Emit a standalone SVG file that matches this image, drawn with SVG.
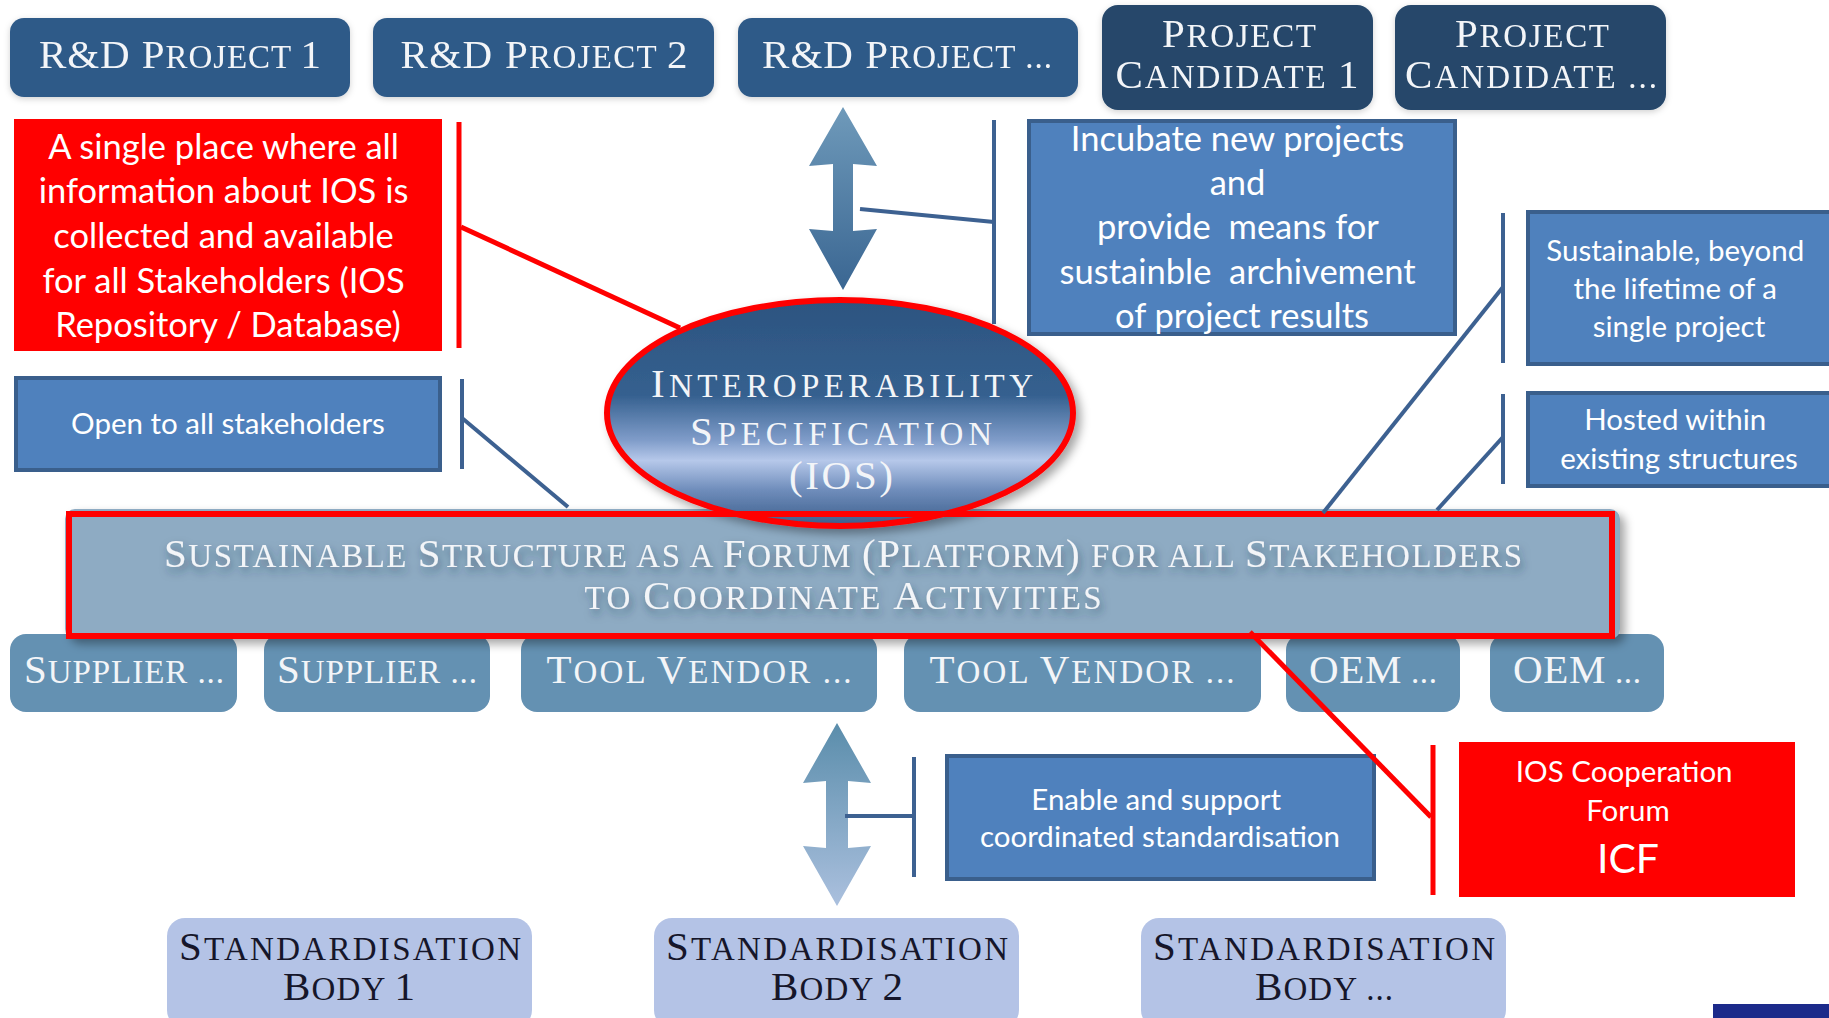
<svg xmlns="http://www.w3.org/2000/svg" width="1829" height="1018" viewBox="0 0 1829 1018">
<defs>
  <linearGradient id="gEll" x1="0" y1="0" x2="0" y2="1">
    <stop offset="0" stop-color="#2c5480"/>
    <stop offset="0.42" stop-color="#35608f"/>
    <stop offset="0.62" stop-color="#7f9cc9"/>
    <stop offset="0.71" stop-color="#b6c8ea"/>
    <stop offset="0.84" stop-color="#6f8dbb"/>
    <stop offset="1" stop-color="#3b5d8b"/>
  </linearGradient>
  <linearGradient id="gArrUp" x1="0" y1="0" x2="0" y2="1">
    <stop offset="0" stop-color="#6f9aba"/>
    <stop offset="1" stop-color="#3a6692"/>
  </linearGradient>
  <linearGradient id="gArrDn" x1="0" y1="0" x2="0" y2="1">
    <stop offset="0" stop-color="#5a8dab"/>
    <stop offset="1" stop-color="#abc0de"/>
  </linearGradient>
  <filter id="shadow" x="-10%" y="-20%" width="125%" height="150%">
    <feDropShadow dx="5" dy="5" stdDeviation="5" flood-color="#000" flood-opacity="0.35"/>
  </filter>
  <filter id="soft" x="-10%" y="-20%" width="120%" height="150%">
    <feDropShadow dx="0" dy="2" stdDeviation="3" flood-color="#000" flood-opacity="0.18"/>
  </filter>
  <filter id="tshadow" x="-5%" y="-50%" width="110%" height="200%">
    <feDropShadow dx="2" dy="5" stdDeviation="4" flood-color="#243447" flood-opacity="0.55"/>
  </filter>
  <style>
    .sc{font-family:"Liberation Serif","DejaVu Serif",serif;font-size:33px;text-anchor:middle}
    .B{font-size:41px}
    .lt{fill:#f3f5f8}
    .dk{fill:#16162a}
    .cal{font-family:Lato,"Open Sans",sans-serif;fill:#ffffff;text-anchor:middle}
    .c1{font-size:34.5px}
    .c2{font-size:29.5px}
    .rd{fill:#2f5a88}
    .pc{fill:#25476a}
    .sup{fill:#6491b2}
    .std{fill:#b4c3e6}
    .bbox{fill:#4f81bd;stroke:#3a5f8c;stroke-width:4}
    .rbox{fill:#ff0000}
    .bl{stroke:#3d6191;stroke-width:4;fill:none}
    .rl{stroke:#ff0000;stroke-width:5;fill:none}
  </style>
</defs>
<rect width="1829" height="1018" fill="#ffffff"/>

<!-- top row -->
<g id="rd-project-1" filter="url(#soft)">
  <rect class="rd" x="10" y="18" width="340" height="79" rx="14"/>
  <text class="sc lt" x="180" y="68" textLength="282" lengthAdjust="spacing"><tspan class="B">R&amp;D P</tspan>ROJECT <tspan class="B">1</tspan></text>
</g>
<g id="rd-project-2" filter="url(#soft)">
  <rect class="rd" x="373" y="18" width="341" height="79" rx="14"/>
  <text class="sc lt" x="544" y="68" textLength="287" lengthAdjust="spacing"><tspan class="B">R&amp;D P</tspan>ROJECT <tspan class="B">2</tspan></text>
</g>
<g id="rd-project-n" filter="url(#soft)">
  <rect class="rd" x="738" y="18" width="340" height="79" rx="14"/>
  <text class="sc lt" x="907" y="68" textLength="290" lengthAdjust="spacing"><tspan class="B">R&amp;D P</tspan>ROJECT ...</text>
</g>
<g id="project-candidate-1" filter="url(#soft)">
  <rect class="pc" x="1102" y="5" width="271" height="105" rx="16"/>
  <text class="sc lt" x="1239" y="47" textLength="154" lengthAdjust="spacing"><tspan class="B">P</tspan>ROJECT</text>
  <text class="sc lt" x="1237" y="88" textLength="243" lengthAdjust="spacing"><tspan class="B">C</tspan>ANDIDATE <tspan class="B">1</tspan></text>
</g>
<g id="project-candidate-n" filter="url(#soft)">
  <rect class="pc" x="1395" y="5" width="271" height="105" rx="16"/>
  <text class="sc lt" x="1532" y="47" textLength="154" lengthAdjust="spacing"><tspan class="B">P</tspan>ROJECT</text>
  <text class="sc lt" x="1531" y="88" textLength="252" lengthAdjust="spacing"><tspan class="B">C</tspan>ANDIDATE ...</text>
</g>

<!-- callouts -->
<g id="note-repository">
  <rect class="rbox" x="14" y="119" width="428" height="232"/>
  <text class="cal c1" x="228">
    <tspan x="228" y="159">A single place where all</tspan>
    <tspan x="228" y="203">information about IOS is</tspan>
    <tspan x="228" y="248">collected and available</tspan>
    <tspan x="228" y="293">for all Stakeholders (IOS</tspan>
    <tspan x="228" y="337">Repository / Database)</tspan>
  </text>
</g>
<g id="note-incubate">
  <rect class="bbox" x="1029" y="121" width="426" height="213"/>
  <text class="cal c1" x="1242">
    <tspan x="1242" y="151">Incubate new projects</tspan>
    <tspan x="1242" y="195">and</tspan>
    <tspan x="1242" y="239" xml:space="preserve">provide  means for</tspan>
    <tspan x="1242" y="284" xml:space="preserve">sustainble  archivement</tspan>
    <tspan x="1242" y="328">of project results</tspan>
  </text>
</g>
<g id="note-open">
  <rect class="bbox" x="16" y="378" width="424" height="92"/>
  <text class="cal c2" x="228" y="434">Open to all stakeholders</text>
</g>
<g id="note-sustainable">
  <rect class="bbox" x="1528" y="212" width="310" height="152"/>
  <text class="cal c2" x="1679">
    <tspan x="1679" y="261">Sustainable, beyond</tspan>
    <tspan x="1679" y="299">the lifetime of a</tspan>
    <tspan x="1679" y="337">single project</tspan>
  </text>
</g>
<g id="note-hosted">
  <rect class="bbox" x="1528" y="393" width="310" height="93"/>
  <text class="cal c2" x="1679">
    <tspan x="1679" y="430">Hosted within</tspan>
    <tspan x="1679" y="469">existing structures</tspan>
  </text>
</g>
<g id="note-enable">
  <rect class="bbox" x="947" y="756" width="427" height="123"/>
  <text class="cal c2" x="1160">
    <tspan x="1160" y="810">Enable and support</tspan>
    <tspan x="1160" y="847">coordinated standardisation</tspan>
  </text>
</g>
<g id="note-icf">
  <rect class="rbox" x="1459" y="742" width="336" height="155"/>
  <text class="cal c2" x="1628">
    <tspan x="1628" y="782">IOS Cooperation</tspan>
    <tspan x="1628" y="821">Forum</tspan>
  </text>
  <text class="cal" font-size="41" x="1628" y="873">ICF</text>
</g>

<!-- stakeholder row -->
<g id="supplier-1">
  <rect class="sup" x="10" y="634" width="227" height="78" rx="16"/>
  <text class="sc lt" x="124" y="683" textLength="200" lengthAdjust="spacing"><tspan class="B">S</tspan>UPPLIER ...</text>
</g>
<g id="supplier-2">
  <rect class="sup" x="264" y="634" width="226" height="78" rx="16"/>
  <text class="sc lt" x="377" y="683" textLength="200" lengthAdjust="spacing"><tspan class="B">S</tspan>UPPLIER ...</text>
</g>
<g id="tool-vendor-1">
  <rect class="sup" x="521" y="634" width="356" height="78" rx="16"/>
  <text class="sc lt" x="699" y="683" textLength="305" lengthAdjust="spacing"><tspan class="B">T</tspan>OOL <tspan class="B">V</tspan>ENDOR ...</text>
</g>
<g id="tool-vendor-2">
  <rect class="sup" x="904" y="634" width="357" height="78" rx="16"/>
  <text class="sc lt" x="1082" y="683" textLength="305" lengthAdjust="spacing"><tspan class="B">T</tspan>OOL <tspan class="B">V</tspan>ENDOR ...</text>
</g>
<g id="oem-1">
  <rect class="sup" x="1286" y="634" width="174" height="78" rx="16"/>
  <text class="sc lt" x="1373" y="683" textLength="128" lengthAdjust="spacing"><tspan class="B">OEM</tspan> ...</text>
</g>
<g id="oem-2">
  <rect class="sup" x="1490" y="634" width="174" height="78" rx="16"/>
  <text class="sc lt" x="1577" y="683" textLength="128" lengthAdjust="spacing"><tspan class="B">OEM</tspan> ...</text>
</g>

<!-- platform -->
<g id="platform">
  <rect x="65" y="509" width="1555" height="130" rx="10" fill="#8eabc3" filter="url(#shadow)"/>
  <g filter="url(#tshadow)">
    <text class="sc lt" x="843" y="567" textLength="1358" lengthAdjust="spacing"><tspan class="B">S</tspan>USTAINABLE <tspan class="B">S</tspan>TRUCTURE AS A <tspan class="B">F</tspan>ORUM <tspan class="B">(P</tspan>LATFORM<tspan class="B">)</tspan> FOR ALL <tspan class="B">S</tspan>TAKEHOLDERS</text>
    <text class="sc lt" x="843" y="609" textLength="517" lengthAdjust="spacing">TO <tspan class="B">C</tspan>OORDINATE <tspan class="B">A</tspan>CTIVITIES</text>
  </g>
</g>

<!-- IOS ellipse -->
<g id="ios">
  <ellipse cx="840" cy="413" rx="233" ry="113" fill="url(#gEll)" stroke="#ff0000" stroke-width="6" filter="url(#shadow)"/>
  <text class="sc lt" x="842" y="397" textLength="382" lengthAdjust="spacing"><tspan class="B">I</tspan>NTEROPERABILITY</text>
  <text class="sc lt" x="841" y="445" textLength="302" lengthAdjust="spacing"><tspan class="B">S</tspan>PECIFICATION</text>
  <text class="sc lt B" x="841" y="489" textLength="104" lengthAdjust="spacing">(IOS)</text>
</g>
<g id="platform-highlight">
  <rect x="69" y="514" width="1543" height="122" fill="none" stroke="#ff0000" stroke-width="6"/>
</g>

<!-- standardisation bodies -->
<g id="std-body-1">
  <rect class="std" x="167" y="918" width="365" height="110" rx="18"/>
  <text class="sc dk" x="350" y="960" textLength="342" lengthAdjust="spacing"><tspan class="B">S</tspan>TANDARDISATION</text>
  <text class="sc dk" x="349" y="1000" textLength="132" lengthAdjust="spacing"><tspan class="B">B</tspan>ODY <tspan class="B">1</tspan></text>
</g>
<g id="std-body-2">
  <rect class="std" x="654" y="918" width="365" height="110" rx="18"/>
  <text class="sc dk" x="837" y="960" textLength="342" lengthAdjust="spacing"><tspan class="B">S</tspan>TANDARDISATION</text>
  <text class="sc dk" x="837" y="1000" textLength="132" lengthAdjust="spacing"><tspan class="B">B</tspan>ODY <tspan class="B">2</tspan></text>
</g>
<g id="std-body-n">
  <rect class="std" x="1141" y="918" width="365" height="110" rx="18"/>
  <text class="sc dk" x="1324" y="960" textLength="342" lengthAdjust="spacing"><tspan class="B">S</tspan>TANDARDISATION</text>
  <text class="sc dk" x="1324" y="1000" textLength="138" lengthAdjust="spacing"><tspan class="B">B</tspan>ODY ...</text>
</g>

<!-- connectors -->
<g id="connectors">
  <path id="arrow-projects" d="M843,107 L877,166 L853,164 L853,231 L877,229 L843,290 L809,229 L833,231 L833,164 L809,166 Z" fill="url(#gArrUp)"/>
  <path id="arrow-standards" d="M837,723 L871,783 L848,781 L848,848 L871,846 L837,906 L803,846 L826,848 L826,781 L803,783 Z" fill="url(#gArrDn)"/>
  <line class="bl" x1="860" y1="209" x2="994" y2="222"/>
  <line class="bl" x1="994" y1="120" x2="994" y2="324"/>
  <line class="bl" x1="462" y1="379" x2="462" y2="469"/>
  <line class="bl" x1="462" y1="418" x2="568" y2="507"/>
  <line class="bl" x1="1503" y1="213" x2="1503" y2="363"/>
  <line class="bl" x1="1503" y1="287" x2="1323" y2="513"/>
  <line class="bl" x1="1503" y1="394" x2="1503" y2="484"/>
  <line class="bl" x1="1503" y1="437" x2="1437" y2="510"/>
  <line class="bl" x1="845" y1="816" x2="914" y2="816"/>
  <line class="bl" x1="914" y1="757" x2="914" y2="877"/>
  <line class="rl" x1="459" y1="122" x2="459" y2="348"/>
  <line class="rl" x1="461" y1="227" x2="680" y2="328"/>
  <line class="rl" x1="1250" y1="632" x2="1431" y2="817"/>
  <line class="rl" x1="1433" y1="745" x2="1433" y2="895"/>
</g>

<rect x="1713" y="1004" width="116" height="14" fill="#1c2a8a"/>
</svg>
